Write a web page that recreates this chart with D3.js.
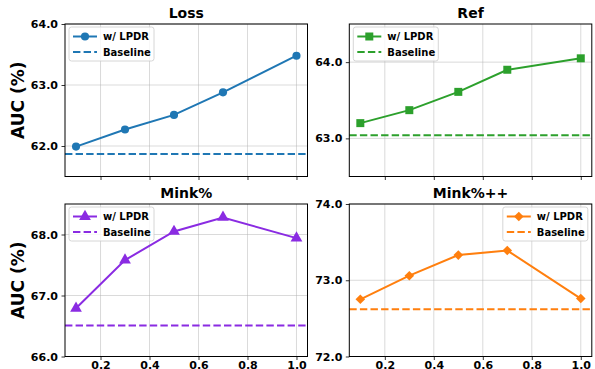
<!DOCTYPE html>
<html>
<head>
<meta charset="utf-8">
<script src="https://cdn.jsdelivr.net/npm/d3@7"></script>
<style>
  body { margin: 0; background: #fff; }
  text { font-family: "DejaVu Sans", sans-serif; font-weight: bold; }
</style>
</head>
<body>
<div id="chart"></div>
<script>
// DATA
var ratios = [0.1, 0.3, 0.5, 0.7, 1.0];
var xTicks = [0.2, 0.4, 0.6, 0.8, 1.0];
var titles = ["Loss", "Ref", "Mink%", "Mink%++"];
var lossVals = [61.99, 62.27, 62.51, 62.88, 63.48];
var refVals = [63.20, 63.37, 63.61, 63.90, 64.05];
var minkVals = [66.79, 67.58, 68.05, 68.28, 67.94];
var minkppVals = [72.75, 73.06, 73.33, 73.39, 72.76];
var baselines = [61.87, 63.04, 66.51, 72.62];
var yDomains = [[61.5, 64.0], [62.5, 64.5], [66.0, 68.5], [72.0, 74.0]];
var yTickVals = [[62, 63, 64], [63, 64], [66, 67, 68], [72, 73, 74]];
var colors = ["#1f77b4", "#2ca02c", "#8a2be2", "#ff7f0e"];
var markers = [d3.symbolCircle, d3.symbolSquare, d3.symbolTriangle, d3.symbolSquare];
var markerSizes = [52, 64, 60, 46];
var markerRot = [0, 0, 0, 45];
var legendRight = [false, false, false, true];
var seriesVals = [lossVals, refVals, minkVals, minkppVals];

var width = 595, height = 369;
var panelW = 242.5, panelH = 152.5;
var lefts = [65, 349.3], tops = [24, 204];

var svg = d3.select("#chart").append("svg")
    .attr("width", width)
    .attr("height", height);

var x = d3.scaleLinear().domain([0.055, 1.045]).range([0, panelW]);

seriesVals.forEach(function(vals, i) {
  var col = i % 2, row = Math.floor(i / 2);
  var g = svg.append("g")
      .attr("transform", "translate(" + lefts[col] + "," + tops[row] + ")");
  var y = d3.scaleLinear().domain(yDomains[i]).range([panelH, 0]);

  // grid
  g.append("g").selectAll("line.gx")
    .data(xTicks).enter().append("line")
      .attr("x1", function(d) { return x(d); }).attr("x2", function(d) { return x(d); })
      .attr("y1", 0).attr("y2", panelH)
      .attr("stroke", "#b0b0b0").attr("stroke-opacity", 0.6).attr("stroke-width", 0.8);
  g.append("g").selectAll("line.gy")
    .data(yTickVals[i]).enter().append("line")
      .attr("x1", 0).attr("x2", panelW)
      .attr("y1", function(d) { return y(d); }).attr("y2", function(d) { return y(d); })
      .attr("stroke", "#b0b0b0").attr("stroke-opacity", 0.6).attr("stroke-width", 0.8);

  // baseline
  g.append("line")
    .attr("x1", 0).attr("x2", panelW)
    .attr("y1", y(baselines[i])).attr("y2", y(baselines[i]))
    .attr("stroke", colors[i]).attr("stroke-width", 2)
    .attr("stroke-dasharray", "7.4,3.2");

  // series line
  var line = d3.line()
    .x(function(d, j) { return x(ratios[j]); })
    .y(function(d) { return y(d); });
  g.append("path").datum(vals)
    .attr("d", line)
    .attr("fill", "none").attr("stroke", colors[i]).attr("stroke-width", 2);

  var sym = d3.symbol().type(markers[i]).size(markerSizes[i]);
  g.selectAll("path.mk").data(vals).enter().append("path")
    .attr("class", "mk")
    .attr("d", sym)
    .attr("transform", function(d, j) {
      return "translate(" + x(ratios[j]) + "," + y(d) + ") rotate(" + markerRot[i] + ")";
    })
    .attr("fill", colors[i]);

  // axes
  var yAxis = d3.axisLeft(y).tickValues(yTickVals[i]).tickFormat(d3.format(".1f")).tickSize(3.5).tickPadding(3.5);
  var xAxis = d3.axisBottom(x).tickValues(xTicks).tickSize(3.5).tickPadding(1)
    .tickFormat(row === 1 ? d3.format(".1f") : "");
  var ya = g.append("g").call(yAxis);
  var xa = g.append("g").attr("transform", "translate(0," + panelH + ")").call(xAxis);
  [ya, xa].forEach(function(a) {
    a.select(".domain").remove();
    a.selectAll("line").attr("stroke", "#000").attr("stroke-width", 0.8);
    a.selectAll("text").attr("fill", "#000").style("font-size", "11px")
      .style("font-family", "DejaVu Sans").style("font-weight", "bold");
  });

  // frame
  g.append("rect").attr("width", panelW).attr("height", panelH)
    .attr("fill", "none").attr("stroke", "#000").attr("stroke-width", 1);

  // title
  g.append("text").attr("x", panelW / 2).attr("y", -6)
    .attr("text-anchor", "middle").style("font-size", "14px").text(titles[i]);

  // y label
  if (col === 0) {
    g.append("text")
      .attr("transform", "translate(" + (-41) + "," + (panelH / 2) + ") rotate(-90)")
      .attr("text-anchor", "middle").style("font-size", "17px").text("AUC (%)");
  }

  // legend
  var lw = 85, lh = 34;
  var lx = legendRight[i] ? panelW - lw - 4 : 4, ly = 3;
  var lg = g.append("g").attr("transform", "translate(" + lx + "," + ly + ")");
  lg.append("rect").attr("width", lw).attr("height", lh).attr("rx", 2.5)
    .attr("fill", "#fff").attr("fill-opacity", 0.8).attr("stroke", "#cccccc").attr("stroke-width", 0.8);
  lg.append("line").attr("x1", 4).attr("x2", 28).attr("y1", 9.5).attr("y2", 9.5)
    .attr("stroke", colors[i]).attr("stroke-width", 2);
  lg.append("path").attr("d", sym)
    .attr("transform", "translate(16,9.5) rotate(" + markerRot[i] + ")")
    .attr("fill", colors[i]);
  lg.append("line").attr("x1", 4).attr("x2", 28).attr("y1", 25).attr("y2", 25)
    .attr("stroke", colors[i]).attr("stroke-width", 2).attr("stroke-dasharray", "7.4,3.2");
  lg.append("text").attr("x", 34).attr("y", 13).style("font-size", "10px").text("w/ LPDR");
  lg.append("text").attr("x", 34).attr("y", 28.5).style("font-size", "10px").text("Baseline");
});
</script>
</body>
</html>
